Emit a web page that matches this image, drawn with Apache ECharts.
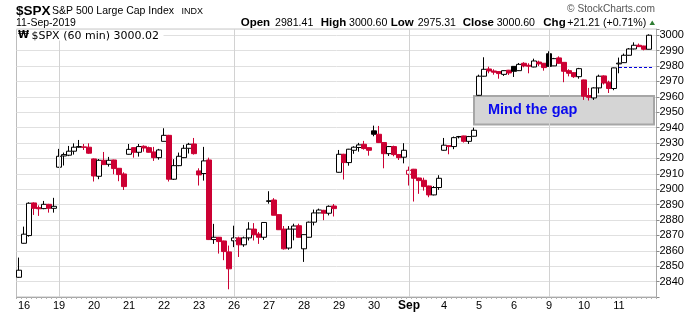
<!DOCTYPE html>
<html><head><meta charset="utf-8">
<script src="https://cdn.jsdelivr.net/npm/echarts@6/dist/echarts.min.js"></script>
<style>html,body{margin:0;padding:0;background:#fff;}#c{width:700px;height:312px;}</style>
</head><body><div id="c"></div>
<script>
// Trading days shown (first bar is the last hourly bar of Aug 15)
const dayNames = ['Aug 16','Aug 19','Aug 20','Aug 21','Aug 22','Aug 23','Aug 26','Aug 27','Aug 28','Aug 29','Aug 30','Sep 3','Sep 4','Sep 5','Sep 6','Sep 9','Sep 10','Sep 11'];
const dayTickLabels = ['16','19','20','21','22','23','26','27','28','29','30','Sep','4','5','6','9','10','11'];
const hours = ['09:30','10:30','11:30','12:30','13:30','14:30','15:30'];
const weekStartDays = ['Aug 19','Aug 26','Sep 3','Sep 9'];
const yTickLabels = [2840,2850,2860,2870,2880,2890,2900,2910,2920,2930,2940,2950,2960,2970,2980,2990,3000];

const open = [
2842.8,
2864.9,2869.9,2891.1,2888.0,2887.4,2890.2,2887.6,
2914.3,2921.6,2922.1,2924.7,2927.3,2927.5,2927.3,
2919.7,2908.4,2918.8,2916.2,2919.0,2913.6,2909.9,
2922.7,2927.0,2924.0,2927.9,2927.0,2924.2,2920.5,
2931.1,2935.0,2906.5,2915.3,2920.5,2926.6,2929.4,
2911.9,2910.2,2919.0,2867.3,2868.8,2866.4,2859.3,
2866.5,2868.4,2863.9,2868.4,2874.1,2870.9,2868.8,
2892.1,2893.0,2883.5,2874.1,2861.8,2874.1,2876.3,
2861.3,2868.8,2878.6,2884.6,2886.3,2884.4,2889.1,
2911.0,2922.7,2917.3,2925.3,2927.1,2929.2,2927.0,
2937.9,2935.7,2930.3,2923.1,2927.7,2922.5,2920.8,
2909.7,2913.0,2907.3,2905.8,2902.1,2896.3,2901.1,
2925.3,2928.3,2927.7,2934.0,2934.6,2931.1,2934.4,
2961.0,2973.4,2978.1,2976.8,2976.4,2974.6,2977.3,
2979.8,2977.0,2981.8,2980.5,2979.4,2982.6,2981.8,
2988.0,2980.1,2985.3,2982.4,2977.0,2975.7,2973.1,
2971.0,2960.8,2959.3,2965.8,2973.6,2969.5,2965.4,
2981.4,2982.2,2987.0,2991.1,2993.5,2993.0,2990.9
];
const high = [
2855.6,
2875.7,2891.5,2891.5,2889.5,2892.4,2890.5,2894.4,
2926.2,2923.8,2928.1,2929.8,2932.0,2929.4,2929.8,
2920.0,2919.6,2924.2,2921.0,2919.2,2913.8,2911.0,
2929.4,2927.2,2929.4,2928.5,2927.7,2927.5,2926.2,
2939.6,2935.3,2919.5,2923.8,2928.8,2930.1,2933.3,
2913.6,2927.5,2920.5,2877.5,2869.0,2866.6,2863.4,
2876.3,2869.2,2869.2,2878.6,2878.0,2872.2,2878.6,
2898.7,2894.2,2883.7,2876.1,2876.1,2877.6,2877.6,
2870.7,2879.0,2886.8,2887.4,2886.6,2889.5,2890.4,
2925.5,2923.0,2926.2,2927.9,2930.1,2931.4,2927.2,
2941.3,2941.1,2930.5,2928.1,2928.3,2922.9,2929.9,
2914.7,2913.2,2907.5,2907.5,2902.3,2902.0,2909.1,
2933.3,2928.5,2934.2,2934.6,2934.8,2934.6,2940.0,
2974.4,2985.7,2979.6,2977.9,2976.6,2977.2,2977.5,
2980.0,2982.0,2982.5,2981.8,2984.8,2983.5,2982.0,
2989.6,2985.3,2986.3,2982.6,2977.9,2976.0,2978.8,
2971.2,2965.8,2966.2,2974.4,2974.0,2970.5,2979.0,
2985.5,2988.1,2991.7,2995.4,2994.6,2993.2,3000.6
];
const low = [
2842.5,
2864.7,2869.2,2883.3,2882.7,2887.0,2884.8,2884.8,
2914.0,2915.4,2921.5,2922.5,2927.0,2925.5,2923.0,
2905.0,2906.5,2915.7,2914.7,2909.7,2905.2,2899.5,
2922.5,2920.5,2921.2,2924.4,2923.8,2918.4,2919.2,
2931.0,2905.0,2906.0,2915.0,2920.2,2923.2,2922.5,
2902.4,2905.6,2867.0,2864.5,2858.2,2853.9,2835.0,
2862.4,2856.0,2862.6,2866.7,2866.7,2864.5,2867.1,
2890.6,2883.0,2873.5,2860.8,2860.7,2866.8,2868.6,
2852.8,2868.6,2876.5,2884.4,2879.9,2883.0,2882.3,
2910.8,2906.3,2915.3,2923.0,2924.4,2925.7,2921.8,
2934.4,2930.0,2913.6,2921.6,2921.4,2919.0,2916.8,
2902.4,2892.0,2897.0,2899.1,2894.8,2896.0,2899.6,
2925.0,2922.7,2926.0,2933.0,2930.3,2929.4,2934.2,
2960.8,2973.2,2975.3,2974.4,2971.8,2973.6,2974.2,
2972.9,2976.8,2979.2,2975.3,2979.2,2980.0,2977.0,
2979.6,2980.0,2981.5,2969.5,2973.3,2972.3,2971.8,
2958.0,2957.6,2958.0,2962.3,2968.0,2962.5,2964.3,
2975.3,2982.0,2986.8,2990.8,2992.4,2990.2,2990.8
];
const close = [
2847.4,
2870.8,2890.9,2887.6,2887.3,2890.2,2887.6,2888.9,
2921.4,2922.5,2924.7,2927.3,2927.7,2927.2,2923.4,
2908.6,2918.8,2916.0,2918.8,2913.4,2909.5,2901.7,
2925.9,2924.0,2927.7,2926.8,2924.0,2920.5,2925.5,
2935.0,2906.5,2915.3,2921.4,2926.6,2929.2,2923.1,
2909.3,2918.4,2867.3,2868.8,2866.0,2859.5,2848.3,
2868.4,2863.9,2868.4,2874.1,2870.5,2868.8,2878.4,
2892.5,2883.1,2873.7,2861.3,2874.1,2876.1,2868.8,
2870.5,2878.6,2884.6,2886.5,2884.4,2888.9,2887.4,
2922.7,2917.3,2926.0,2927.3,2928.8,2926.4,2925.3,
2935.7,2930.3,2923.1,2927.7,2922.5,2920.5,2925.3,
2912.3,2907.1,2905.6,2901.7,2896.3,2901.1,2907.1,
2928.6,2927.7,2933.5,2934.2,2931.1,2934.2,2938.3,
2973.4,2977.9,2976.8,2976.0,2975.1,2977.0,2975.5,
2976.6,2981.1,2980.1,2979.9,2983.3,2981.4,2979.0,
2979.8,2984.8,2981.8,2976.6,2975.3,2973.1,2978.3,
2960.4,2959.7,2965.8,2973.4,2969.0,2965.4,2978.8,
2981.9,2987.0,2991.1,2993.5,2992.6,2990.9,3000.02
];
const prevClose = 2979.39;
const gapTop = 2960.6, gapBottom = 2942.0;

// ---- build categories ----
const cats = ['Aug 15 15:30'];
const labelAt = {};
dayNames.forEach((d, di) => {
  hours.forEach((h, hi) => {
    if (hi === 0) labelAt[cats.length] = dayTickLabels[di];
    cats.push(d + ' ' + h);
  });
});
cats.push('');  // empty slot at the right edge

const RED = '#cc0033';
const items = open.map((o, i) => {
  const c = close[i];
  const pc = i ? close[i - 1] : o;
  const col = c >= pc ? '#000000' : RED;
  const st = c >= o
    ? { color: '#ffffff', color0: '#ffffff', borderColor: col, borderColor0: col }
    : { color: col, color0: col, borderColor: col, borderColor0: col };
  return { value: [o, c, low[i], high[i]], itemStyle: st };
});

const firstOf = d => cats.indexOf(d + ' 09:30');
const lastIdx = cats.length - 1;
const gapStart = firstOf('Sep 5') - 1;

const chart = echarts.init(document.getElementById('c'), null, { renderer: 'canvas' });
const F = 'Liberation Sans, Arial, sans-serif';
chart.setOption({
  animation: false,
  backgroundColor: '#ffffff',
  grid: { left: 16.5, top: 29.1, width: 640, height: 268, show: true, borderColor: '#bdbdbd', borderWidth: 1 },
  xAxis: {
    type: 'category', data: cats, boundaryGap: true,
    axisLine: { show: true, lineStyle: { color: '#a8a8a8' } },
    axisTick: { show: true, interval: 0, length: 2, lineStyle: { color: '#b0b0b0' } },
    axisLabel: {
      interval: (i) => labelAt[i] !== undefined,
      formatter: (v, i) => labelAt[i] === 'Sep' ? '{b|Sep}' : (labelAt[i] || ''),
      margin: 3, fontSize: 11, fontFamily: F, color: '#000',
      rich: { b: { fontWeight: 'bold', fontSize: 12, fontFamily: F, color: '#000' } }
    },
    splitLine: { show: false }
  },
  yAxis: {
    type: 'value', position: 'right', min: 2830, max: 3004, interval: 10,
    axisLine: { show: true, lineStyle: { color: '#a8a8a8' } },
    axisTick: { show: true, length: 3, lineStyle: { color: '#888' } },
    axisLabel: {
      formatter: v => yTickLabels.indexOf(Math.round(v)) >= 0 && Math.abs(v - Math.round(v)) < 1e-6 ? String(Math.round(v)) : '',
      margin: 3, fontSize: 11, fontFamily: F, color: '#000'
    },
    splitLine: { show: true, lineStyle: { color: '#e0e0e0', width: 1 } }
  },
  series: [
    {
      type: 'scatter', data: [], z: 1, silent: true,
      markLine: {
        silent: true, symbol: 'none', label: { show: false },
        lineStyle: { color: '#d2d2d2', width: 1, type: 'solid' },
        data: weekStartDays.map(d => ({ xAxis: d + ' 09:30' }))
      }
    },
    {
      type: 'candlestick', z: 3, data: items, barWidth: 4.6,
      itemStyle: { borderWidth: 1 },
      markArea: {
        silent: true,
        itemStyle: { color: '#d5d5d5', borderColor: '#a6a6a6', borderWidth: 2, opacity: 1 },
        label: { show: true, position: 'insideLeft', distance: 15, color: '#0a0aee', fontWeight: 'bold', fontSize: 14.5, fontFamily: F, formatter: 'Mind the gap' },
        data: [[{ xAxis: cats[gapStart], yAxis: gapTop }, { xAxis: cats[lastIdx], yAxis: gapBottom }]]
      },
      markLine: {
        silent: true, symbol: 'none', label: { show: false },
        lineStyle: { color: '#0000dd', width: 1, type: [3, 2] },
        data: [[{ coord: [cats[firstOf('Sep 11')], prevClose] }, { coord: [cats[lastIdx], prevClose] }]]
      }
    }
  ],
  graphic: [
    { type: 'text', x: 16, y: 11, style: { text: '$SPX', font: 'bold 13.5px ' + F, fill: '#000', verticalAlign: 'middle' } },
    { type: 'text', x: 52, y: 11.5, style: { text: 'S&P 500 Large Cap Index', font: '10.5px ' + F, fill: '#000', verticalAlign: 'middle' } },
    { type: 'text', x: 181.5, y: 11.5, style: { text: 'INDX', font: '9px ' + F, fill: '#000', verticalAlign: 'middle' } },
    { type: 'text', x: 16, y: 23, style: { text: '11-Sep-2019', font: '10.5px ' + F, fill: '#000', verticalAlign: 'middle' } },
    { type: 'text', x: 655, y: 9.5, style: { text: '\u00A9 StockCharts.com', font: '10.2px ' + F, fill: '#555', align: 'right', verticalAlign: 'middle' } },
    { type: 'text', x: 240.7, y: 23, style: { text: 'Open', font: 'bold 11.5px ' + F, fill: '#000', verticalAlign: 'middle' } },
    { type: 'text', x: 275, y: 23, style: { text: '2981.41', font: '10.6px ' + F, fill: '#000', verticalAlign: 'middle' } },
    { type: 'text', x: 320.7, y: 23, style: { text: 'High', font: 'bold 11.5px ' + F, fill: '#000', verticalAlign: 'middle' } },
    { type: 'text', x: 349, y: 23, style: { text: '3000.60', font: '10.6px ' + F, fill: '#000', verticalAlign: 'middle' } },
    { type: 'text', x: 390.7, y: 23, style: { text: 'Low', font: 'bold 11.5px ' + F, fill: '#000', verticalAlign: 'middle' } },
    { type: 'text', x: 417.7, y: 23, style: { text: '2975.31', font: '10.6px ' + F, fill: '#000', verticalAlign: 'middle' } },
    { type: 'text', x: 462.7, y: 23, style: { text: 'Close', font: 'bold 11.5px ' + F, fill: '#000', verticalAlign: 'middle' } },
    { type: 'text', x: 496.7, y: 23, style: { text: '3000.60', font: '10.6px ' + F, fill: '#000', verticalAlign: 'middle' } },
    { type: 'text', x: 543.3, y: 23, style: { text: 'Chg', font: 'bold 11.5px ' + F, fill: '#000', verticalAlign: 'middle' } },
    { type: 'text', x: 567.3, y: 23, style: { text: '+21.21 (+0.71%)', font: '10.6px ' + F, fill: '#000', verticalAlign: 'middle' } },
    { type: 'polygon', shape: { points: [[649.5, 25], [655, 25], [652.25, 20.5]] }, style: { fill: '#2e7d32' } },
    { type: 'rect', z: 100, shape: { x: 17.5, y: 30.5, width: 146, height: 10 }, style: { fill: '#ffffff' } },
    { type: 'text', z: 101, x: 18, y: 35.8, style: { text: '\u20A9', font: 'bold 10px DejaVu Sans', fill: '#000', verticalAlign: 'middle' } },
    { type: 'text', z: 101, x: 31.5, y: 35.8, style: { text: '$SPX (60 min) 3000.02', font: '11px DejaVu Sans', fill: '#000', verticalAlign: 'middle' } }
  ]
});
</script></body></html>
